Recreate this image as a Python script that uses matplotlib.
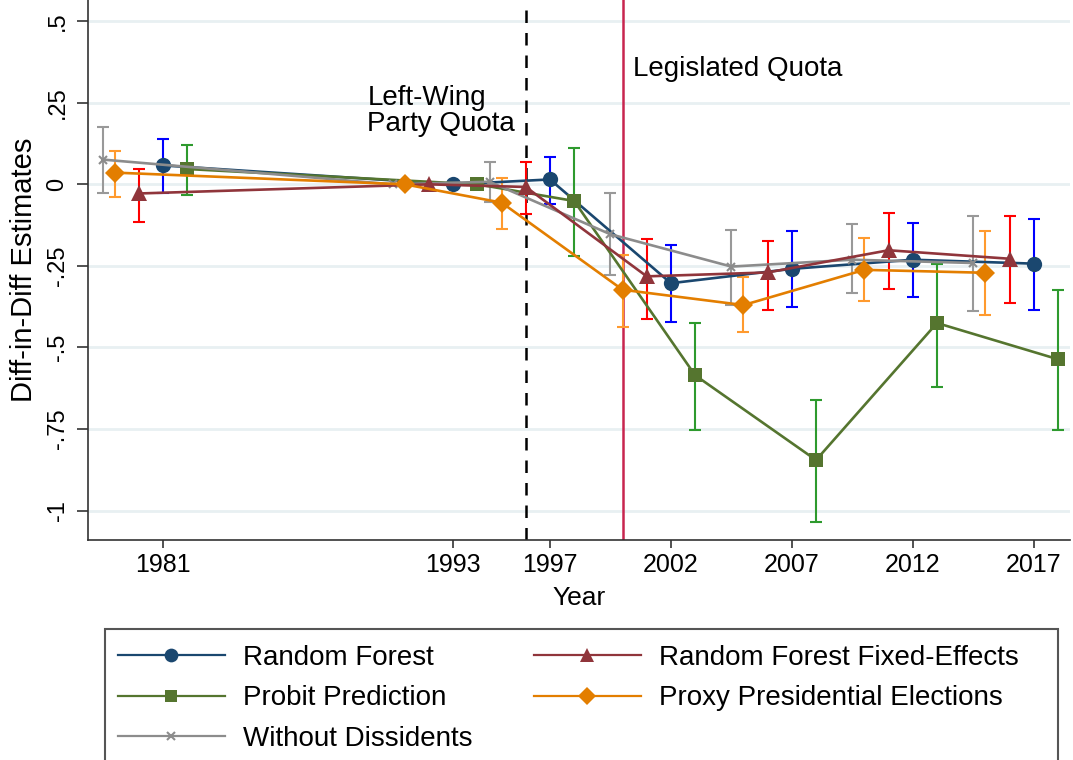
import matplotlib
matplotlib.use("Agg")
import matplotlib.pyplot as plt
from matplotlib.patches import Rectangle
import numpy as np

plt.rcParams["font.family"] = ["Liberation Sans", "DejaVu Sans"]

# Estimates: (year, estimate, upper CI, lower CI)
rf_years = [1981, 1993, 1997, 2002, 2007, 2012, 2017]
rf_est = [0.058, 0.0, 0.015, -0.303, -0.259, -0.231, -0.243]
rf_hi = [0.140, np.nan, 0.085, -0.185, -0.144, -0.118, -0.107]
rf_lo = [-0.026, np.nan, -0.061, -0.423, -0.375, -0.346, -0.385]

fe_years = [1980, 1992, 1996, 2001, 2006, 2011, 2016]
fe_est = [-0.028, 0.0, -0.008, -0.282, -0.270, -0.202, -0.228]
fe_hi = [0.047, np.nan, 0.070, -0.168, -0.174, -0.087, -0.097]
fe_lo = [-0.114, np.nan, -0.091, -0.413, -0.385, -0.320, -0.364]

pr_years = [1982, 1994, 1998, 2003, 2008, 2013, 2018]
pr_est = [0.047, 0.0, -0.051, -0.585, -0.845, -0.425, -0.536]
pr_hi = [0.120, np.nan, 0.111, -0.425, -0.661, -0.243, -0.323]
pr_lo = [-0.033, np.nan, -0.221, -0.754, -1.036, -0.622, -0.754]

px_years = [1979, 1991, 1995, 2000, 2005, 2010, 2015]
px_est = [0.036, 0.0, -0.056, -0.323, -0.370, -0.262, -0.271]
px_hi = [0.102, np.nan, 0.019, -0.216, -0.285, -0.163, -0.143]
px_lo = [-0.038, np.nan, -0.137, -0.438, -0.454, -0.359, -0.400]

wd_years = [1978.5, 1990.5, 1994.5, 1999.5, 2004.5, 2009.5, 2014.5]
wd_est = [0.076, 0.0, 0.008, -0.153, -0.252, -0.231, -0.241]
wd_hi = [0.175, np.nan, 0.070, -0.025, -0.139, -0.122, -0.097]
wd_lo = [-0.028, np.nan, -0.054, -0.279, -0.369, -0.334, -0.389]

x_ticks = [1981, 1993, 1997, 2002, 2007, 2012, 2017]
y_ticks = [-1, -0.75, -0.5, -0.25, 0, 0.25, 0.5]
y_labels = ["-1", "-.75", "-.5", "-.25", "0", ".25", ".5"]

series = [
    # label, years, est, hi, lo, line color, ci color, marker, size
    ("Random Forest", rf_years, rf_est, rf_hi, rf_lo, "#1a476f", "#0000ff", "o", 11),
    ("Probit Prediction", pr_years, pr_est, pr_hi, pr_lo, "#55752f", "#2e9a2e", "s", 10),
    ("Without Dissidents", wd_years, wd_est, wd_hi, wd_lo, "#8c8c8c", "#999999", "x", 6),
    ("Random Forest Fixed-Effects", fe_years, fe_est, fe_hi, fe_lo, "#90353b", "#ff0000", "^", 11),
    ("Proxy Presidential Elections", px_years, px_est, px_hi, px_lo, "#e37e00", "#ff9a2e", "D", 10),
]

fig = plt.figure(figsize=(10.73, 7.6), dpi=100)
ax = fig.add_axes([88 / 1073, 1 - 540 / 760, (1070 - 88) / 1073, 540 / 760])

for yt in y_ticks:
    ax.axhline(yt, color="#e8f0f2", lw=2, zorder=0)

ax.axvline(1996, color="black", ls=(0, (5, 4)), lw=1.8, zorder=1)
ax.axvline(2000, color="#c8254f", lw=1.8, zorder=1)

handles = []
for lab, yrs, est, hi, lo, lc, cc, mk, ms in series:
    yrs = np.array(yrs)
    est = np.array(est)
    hi = np.array(hi)
    lo = np.array(lo)
    ok = ~np.isnan(hi)
    ax.errorbar(yrs[ok], est[ok], yerr=[est[ok] - lo[ok], hi[ok] - est[ok]],
                fmt="none", ecolor=cc, elinewidth=1.5, capsize=4, capthick=1.5, zorder=2)
    h, = ax.plot(yrs, est, color=lc, lw=1.9, marker=mk, ms=ms,
                 mew=1.5 if mk == "x" else 0, mfc=lc, mec=lc, zorder=3, label=lab)
    handles.append(h)

# annotations next to the two reform lines
ax.text(1989.45, 0.242, "Left-Wing", fontsize=20, va="baseline", ha="left")
ax.text(1989.45, 0.162, "Party Quota", fontsize=20, va="baseline", ha="left")
ax.text(2000.45, 0.331, "Legislated Quota", fontsize=20, va="baseline", ha="left")

ax.set_xlim(1977.9, 2018.5)
ax.set_ylim(-1.09, 0.565)
ax.set_xticks(x_ticks)
ax.set_yticks(y_ticks)
ax.set_yticklabels(y_labels, rotation=90, va="center")
ax.tick_params(axis="x", labelsize=18, length=6, width=1.2, color="#333333")
ax.tick_params(axis="y", labelsize=17, length=8, width=1.2, color="#333333", pad=6)
ax.set_xlabel("Year", fontsize=19, labelpad=6)
ax.set_ylabel("Diff-in-Diff Estimates", fontsize=21, labelpad=6)
for side in ("top", "right"):
    ax.spines[side].set_visible(False)
for side in ("left", "bottom"):
    ax.spines[side].set_linewidth(1.2)
    ax.spines[side].set_color("#333333")

fig.patches.append(Rectangle((105 / 1073, -0.05), 953 / 1073, 0.05 + (760 - 629) / 760,
                             transform=fig.transFigure, fill=False,
                             edgecolor="#555555", lw=1.5))
leg = fig.legend(handles=handles, loc="upper left", bbox_to_anchor=(118 / 1073, 1 - 645 / 760),
                 ncol=2, frameon=False, fontsize=20, handlelength=3.85, handletextpad=0.65,
                 columnspacing=2.2, labelspacing=0.52, borderpad=0, borderaxespad=0,
                 markerscale=0.9)
for ln in leg.get_lines():
    ln.set_linewidth(1.6)

fig.savefig("out.png", dpi=100)
